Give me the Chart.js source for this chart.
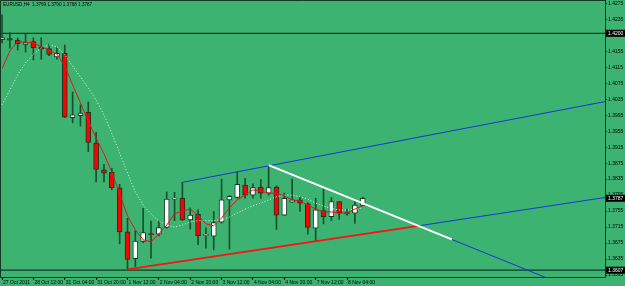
<!DOCTYPE html>
<html><head><meta charset="utf-8">
<script src="https://cdn.jsdelivr.net/npm/chart.js@4/dist/chart.umd.min.js"></script>
<style>html,body{margin:0;padding:0;background:#3CB371;overflow:hidden}#wrap{width:625px;height:286px}</style>
</head><body><div id="wrap"><canvas id="c" width="625" height="286"></canvas></div>
<script>
const chartTitle = "EURUSD,H4  1.3769 1.3790 1.3768 1.3787";
const timeLabels = ["27 Oct 2011","28 Oct 12:00","31 Oct 04:00","31 Oct 20:00","1 Nov 12:00","2 Nov 04:00","2 Nov 20:00","3 Nov 12:00","4 Nov 04:00","4 Nov 20:00","7 Nov 12:00","8 Nov 04:00"];
const timeLabelBars = [0,4,8,12,16,20,24,28,32,36,40,44];
const priceTicks = [1.3595,1.3635,1.3675,1.3715,1.3755,1.3795,1.3835,1.3875,1.3915,1.3955,1.3995,1.4035,1.4075,1.4115,1.4155,1.4195,1.4235,1.4275];

const opens  = [1.4184,1.4187,1.4183,1.4172,1.4179,1.4166,1.4162,1.4141,1.4150,1.3989,1.3994,1.4002,1.3925,1.3858,1.3852,1.3813,1.3703,1.3636,1.3679,1.3697,1.3697,1.3714,1.3785,1.3787,1.3733,1.3747,1.3694,1.3692,1.3727,1.3783,1.3789,1.3820,1.3795,1.3815,1.3800,1.3815,1.3745,1.3777,1.3783,1.3773,1.3712,1.3756,1.3741,1.3779,1.3751,1.3750,1.3769];
const highs  = [1.4246,1.4201,1.4188,1.4198,1.4189,1.4189,1.4173,1.4164,1.4171,1.4053,1.4021,1.4028,1.3952,1.3872,1.3862,1.3822,1.3737,1.3706,1.3762,1.3730,1.3730,1.3803,1.3802,1.3827,1.3763,1.3758,1.3713,1.3754,1.3835,1.3794,1.3854,1.3837,1.3823,1.3834,1.3870,1.3818,1.3800,1.3835,1.3791,1.3776,1.3787,1.3810,1.3789,1.3779,1.3760,1.3779,1.3790];
const lows   = [1.4176,1.4163,1.4158,1.4153,1.4133,1.4135,1.4144,1.4135,1.3989,1.3976,1.3968,1.3904,1.3828,1.3828,1.3808,1.3673,1.3609,1.3616,1.3676,1.3637,1.3693,1.3712,1.3731,1.3731,1.3710,1.3671,1.3662,1.3658,1.3725,1.3660,1.3787,1.3787,1.3787,1.3787,1.3795,1.3709,1.3744,1.3777,1.3754,1.3697,1.3681,1.3723,1.3731,1.3734,1.3744,1.3724,1.3768];
const closes = [1.4189,1.4183,1.4174,1.4177,1.4164,1.4161,1.4147,1.4150,1.3990,1.3996,1.4000,1.3927,1.3859,1.3850,1.3813,1.3703,1.3634,1.3680,1.3701,1.3696,1.3714,1.3785,1.3786,1.3733,1.3745,1.3693,1.3695,1.3726,1.3783,1.3792,1.3822,1.3795,1.3814,1.3800,1.3814,1.3745,1.3787,1.3783,1.3775,1.3714,1.3758,1.3741,1.3779,1.3750,1.3748,1.3770,1.3787];

const fastMA = [1.4111,1.4156,1.4179,1.4178,1.4176,1.4167,1.4158,1.4148,1.4118,1.4071,1.4026,1.3980,1.3938,1.3898,1.3853,1.3798,1.3743,1.3708,1.3683,1.3678,1.3698,1.3720,1.3748,1.3755,1.3760,1.3745,1.3723,1.3718,1.3738,1.3763,1.3783,1.3795,1.3808,1.3805,1.3800,1.3800,1.3793,1.3783,1.3780,1.3770,1.3760,1.3753,1.3753,1.3750,1.3750,1.3760,1.3768];
const slowMA = [1.4021,1.4058,1.4096,1.4126,1.4148,1.4163,1.4171,1.4166,1.4146,1.4118,1.4091,1.4063,1.4033,1.3996,1.3950,1.3900,1.3850,1.3803,1.3770,1.3748,1.3730,1.3720,1.3715,1.3720,1.3728,1.3731,1.3731,1.3731,1.3733,1.3740,1.3750,1.3760,1.3768,1.3775,1.3783,1.3791,1.3795,1.3795,1.3791,1.3785,1.3775,1.3768,1.3761,1.3758,1.3758,1.3760,1.3763];

const hLineLevels = [1.4200, 1.3607];
const channelTop   = [[23, 1.3827], [76.9, 1.4029]];
const supportRed   = [[16, 1.3609], [53.1, 1.3718]];
const supportBlue  = [[53.1, 1.3718], [76.9, 1.3789]];
const resistWhite  = [[34, 1.3870], [57.36, 1.3684]];
const resistBlue   = [[57.36, 1.3684], [69.3, 1.3589]];
const xRange = [-0.26, 76.9];
const yRange = [1.3590, 1.42833];

const BG = '#3CB371', DARK = '#123a22', WICK = '#17502c', BLUE = '#1538d8';
const idx = opens.map((_, i) => i);
const pts = a => a.map(p => ({x: p[0], y: p[1]}));
const lineDs = (data, color, width, order) => ({type:'line', data: pts(data), borderColor: color, borderWidth: width, pointRadius: 0, order, tension: 0});

new Chart(document.getElementById('c'), {
  type: 'bar',
  data: { datasets: [
    lineDs(resistWhite, '#ffffff', 2, 1),
    lineDs(resistBlue, BLUE, 1, 1),
    lineDs(supportRed, '#ff1010', 1.8, 1),
    lineDs(supportBlue, BLUE, 1, 1),
    lineDs(channelTop, BLUE, 1, 1),
    {type:'line', data: idx.map(i => ({x:i, y: fastMA[i]})), borderColor:'#e8141a', borderWidth:1, pointRadius:0, order:2},
    {type:'line', data: idx.map(i => ({x:i, y: slowMA[i]})), borderColor:'rgba(235,255,240,0.9)', borderWidth:1, borderDash:[1,2], pointRadius:0, order:2},
    {type:'bar', data: idx.map(i => ({x:i, y:[opens[i], closes[i]]})), backgroundColor: idx.map(i => closes[i] >= opens[i] ? '#ffffff' : '#ff0000'), borderColor: DARK, borderWidth: 1, borderSkipped: false, barThickness: 5, grouped: false, minBarLength: 1, order: 3},
    {type:'bar', data: idx.map(i => ({x:i, y:[lows[i], highs[i]]})), backgroundColor: WICK, borderWidth: 0, barThickness: 1, grouped: false, order: 4},
    ...hLineLevels.map(v => lineDs([[xRange[0], v], [xRange[1], v]], DARK, 1.2, 5))
  ]},
  options: {
    responsive: false, animation: false, devicePixelRatio: 1,
    layout: { padding: 0, autoPadding: false },
    plugins: { legend: {display:false}, tooltip: {enabled:false}, title: {display:false} },
    scales: {
      x: { type:'linear', position:'bottom', min: xRange[0], max: xRange[1], offset: false,
        afterBuildTicks: s => { s.ticks = timeLabelBars.map(v => ({value: v})); },
        afterFit: s => { s.height = 9; s.paddingLeft = 0; s.paddingRight = 0; },
        ticks: { autoSkip:false, maxRotation:0, minRotation:0, align:'start', labelOffset:1, padding:0, color:'#000',
          font:{family:'Liberation Sans', size:5}, callback: v => timeLabels[timeLabelBars.indexOf(v)] },
        grid: { offset:false, drawOnChartArea:false, drawTicks:true, tickLength:3, tickColor:'#000' },
        border: { display:true, color: DARK, width:1 } },
      y: { type:'linear', position:'right', min: yRange[0], max: yRange[1],
        afterBuildTicks: s => { s.ticks = priceTicks.map(v => ({value: v})); },
        afterFit: s => { s.width = 20; s.paddingTop = 0; s.paddingBottom = 0; },
        ticks: { padding:1, color:'#000', font:{family:'Liberation Sans', size:5}, callback: v => v.toFixed(4) },
        grid: { drawOnChartArea:false, drawTicks:true, tickLength:2, tickColor:'#000' },
        border: { display:true, color: DARK, width:1 } }
    }
  },
  plugins: [{
    id: 'deco',
    beforeDraw(chart) {
      const c = chart.ctx; c.save(); c.fillStyle = BG; c.fillRect(0, 0, chart.width, chart.height); c.restore();
    },
    afterDraw(chart) {
      const c = chart.ctx, a = chart.chartArea, ys = chart.scales.y;
      c.save();
      c.strokeStyle = DARK; c.lineWidth = 1;
      c.beginPath(); c.moveTo(a.left + 0.5, a.bottom); c.lineTo(a.left + 0.5, a.top + 0.5); c.lineTo(a.right, a.top + 0.5); c.stroke();
      c.font = '5px "Liberation Sans"'; c.textBaseline = 'middle'; c.textAlign = 'left';
      [...hLineLevels, closes[closes.length - 1]].forEach(v => {
        const y = ys.getPixelForValue(v);
        c.fillStyle = '#000'; c.fillRect(a.right + 1, y - 3.5, chart.width - a.right - 1, 7);
        c.fillStyle = '#fff'; c.fillText(v.toFixed(4), a.right + 3, y);
      });
      c.fillStyle = '#000'; c.font = '4.6px "Liberation Sans"';
      c.fillText(chartTitle, 3, 5);
      c.restore();
    }
  }]
});
</script></body></html>
